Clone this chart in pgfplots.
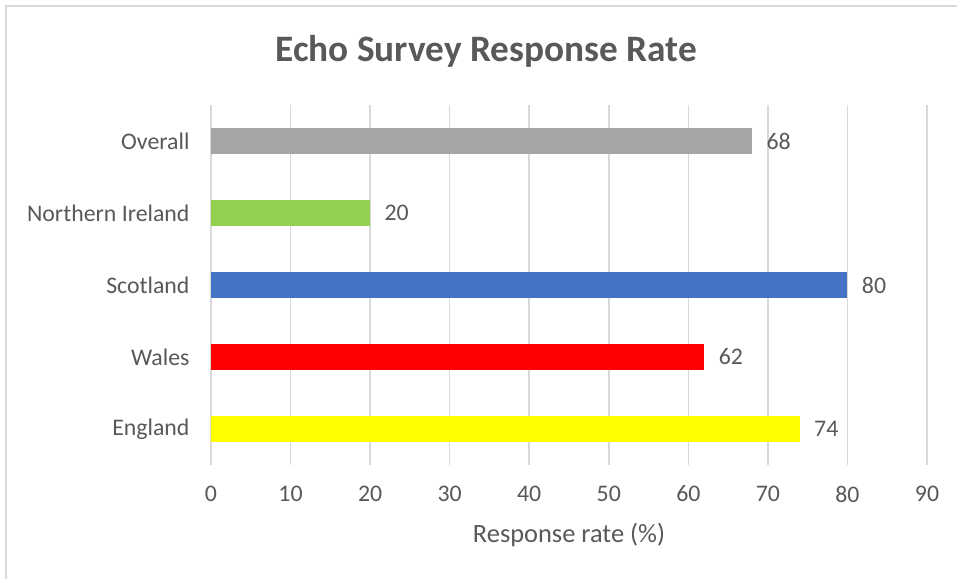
\documentclass[border=0pt]{standalone}
\usepackage{pgfplots}
\pgfplotsset{compat=1.18}
\usepackage{fontspec}
\setmainfont{Carlito}
\definecolor{txt}{HTML}{595959}
\definecolor{gridc}{HTML}{D9D9D9}
\definecolor{ovr}{HTML}{A5A5A5}
\definecolor{nir}{HTML}{92D050}
\definecolor{sco}{HTML}{4472C4}
\definecolor{wal}{HTML}{FF0000}
\definecolor{eng}{HTML}{FFFF00}
\begin{document}
\begin{tikzpicture}[x=1pt,y=1pt]
\useasboundingbox (0,0) rectangle (957,579);
\fill[white] (0,0) rectangle (957,579);
\draw[gridc, line width=1.5pt] (6,0) -- (6,573) -- (957,573);
\node[font=\bfseries\fontsize{37.3}{44}\selectfont, text=txt] at (486,528) {Echo Survey Response Rate};
\begin{axis}[
  at={(211pt,114pt)}, anchor=south west,
  scale only axis, width=716pt, height=360pt,
  xmin=0, xmax=90, ymin=-0.5, ymax=4.5,
  xbar, bar width=26pt,
  xtick={0,10,...,90}, ytick={0,1,2,3,4},
  yticklabels={England,Wales,Scotland,Northern Ireland,Overall},
  xmajorgrids, ymajorgrids=false,
  major grid style={gridc, line width=1.5pt},
  axis line style={draw=none},
  major tick length=0pt,
  tick label style={font=\fontsize{23.8}{28}\selectfont, text=txt},
  /pgf/number format/assume math mode=true,
  x tick label style={anchor=center, yshift=-29pt},
  y tick label style={anchor=east, xshift=-18pt},
  xlabel={Response rate (\%)},
  xlabel style={at={(axis description cs:0.5,-0.1944)}, anchor=center, font=\fontsize{26.4}{31}\selectfont, text=txt},
  nodes near coords,
  every node near coord/.append style={font=\fontsize{23.8}{28}\selectfont, text=txt, anchor=west, xshift=11pt},
  clip=false,
]
\addplot[fill=eng, draw=none, bar shift=0pt] coordinates {(74,0)};
\addplot[fill=wal, draw=none, bar shift=0pt] coordinates {(62,1)};
\addplot[fill=sco, draw=none, bar shift=0pt] coordinates {(80,2)};
\addplot[fill=nir, draw=none, bar shift=0pt] coordinates {(20,3)};
\addplot[fill=ovr, draw=none, bar shift=0pt] coordinates {(68,4)};
\end{axis}
\end{tikzpicture}
\end{document}
